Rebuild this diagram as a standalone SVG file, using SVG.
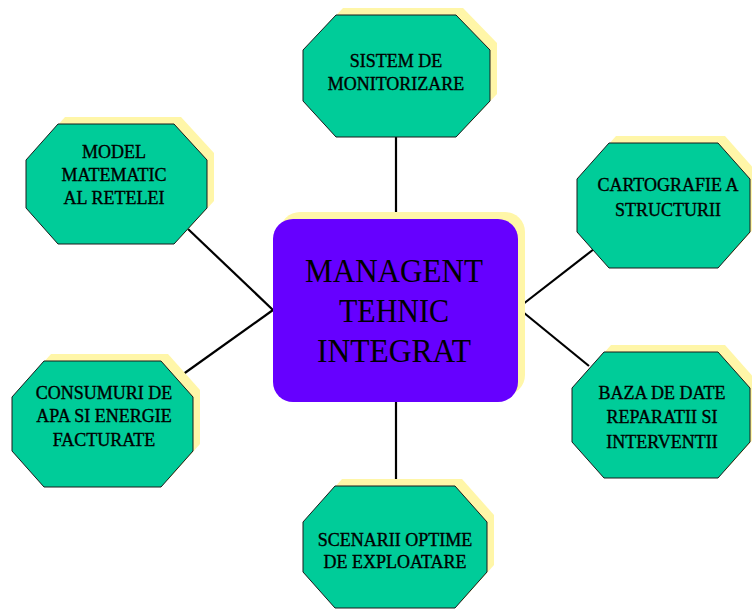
<svg xmlns="http://www.w3.org/2000/svg" width="752" height="610" viewBox="0 0 752 610">
<style>
.sh{fill:#FFF6A8;}
.oct{fill:#00CC99;stroke:#1a1a1a;stroke-width:1;}
.t{font-family:"Liberation Serif","Times New Roman",serif;font-size:18px;fill:#000;stroke:#000;stroke-width:0.35;text-anchor:middle;}
.tc{font-family:"Liberation Serif","Times New Roman",serif;font-size:34px;fill:#000;text-anchor:middle;}
.con line{stroke:#000;stroke-width:2.2;}
</style>
<rect width="752" height="610" fill="#fff"/>
<g class="con" id="connectors">
<line x1="396" y1="137" x2="396" y2="219"/>
<line x1="396" y1="402" x2="396" y2="486"/>
<line x1="188" y1="229" x2="273" y2="310"/>
<line x1="273" y1="310" x2="182" y2="375"/>
<line x1="594" y1="249" x2="518" y2="308"/>
<line x1="518" y1="308" x2="589" y2="366"/>
</g>
<g id="center">
<rect class="sh" x="280" y="212" width="245" height="183" rx="20"/>
<rect x="273" y="219" width="245" height="183" rx="20" fill="#6600FF"/>
<text class="tc" x="394" y="282" textLength="178" lengthAdjust="spacingAndGlyphs">MANAGENT</text>
<text class="tc" x="394" y="322" textLength="110" lengthAdjust="spacingAndGlyphs">TEHNIC</text>
<text class="tc" x="394" y="362" textLength="154" lengthAdjust="spacingAndGlyphs">INTEGRAT</text>
</g>
<g id="n-top">
<polygon class="sh" points="343,8 463,8 497,43 497,94 463,130 343,130 310,94 310,43"/>
<polygon class="oct" points="336,15 456,15 490,50 490,101 456,137 336,137 303,101 303,50"/>
<text class="t" x="396" y="67">SISTEM DE</text>
<text class="t" x="396" y="90">MONITORIZARE</text>
</g>
<g id="n-model">
<polygon class="sh" points="65,117 181,117 214,153 214,201 181,237 65,237 33,201 33,153"/>
<polygon class="oct" points="58,124 174,124 207,160 207,208 174,244 58,244 26,208 26,160"/>
<text class="t" x="114" y="158">MODEL</text>
<text class="t" x="114" y="181">MATEMATIC</text>
<text class="t" x="114" y="204">AL RETELEI</text>
</g>
<g id="n-carto">
<polygon class="sh" points="616,136 725,136 757,172 757,225 725,261 616,261 584,225 584,172"/>
<polygon class="oct" points="609,143 718,143 750,179 750,232 718,268 609,268 577,232 577,179"/>
<text class="t" x="668" y="191">CARTOGRAFIE A</text>
<text class="t" x="668" y="216">STRUCTURII</text>
</g>
<g id="n-consum">
<polygon class="sh" points="51,354 168,354 200,390 200,444 168,480 51,480 19,444 19,390"/>
<polygon class="oct" points="44,361 161,361 193,397 193,451 161,487 44,487 12,451 12,397"/>
<text class="t" x="104" y="399">CONSUMURI DE</text>
<text class="t" x="104" y="422">APA SI ENERGIE</text>
<text class="t" x="104" y="446">FACTURATE</text>
</g>
<g id="n-baza">
<polygon class="sh" points="611,345 725,345 757,381 757,435 725,471 611,471 579,435 579,381"/>
<polygon class="oct" points="604,352 718,352 750,388 750,442 718,478 604,478 572,442 572,388"/>
<text class="t" x="662" y="399">BAZA DE DATE</text>
<text class="t" x="662" y="423">REPARATII SI</text>
<text class="t" x="662" y="448">INTERVENTII</text>
</g>
<g id="n-scen">
<polygon class="sh" points="342,479 462,479 494,515 494,565 462,601 342,601 310,565 310,515"/>
<polygon class="oct" points="335,486 455,486 487,522 487,572 455,608 335,608 303,572 303,522"/>
<text class="t" x="395" y="546">SCENARII OPTIME</text>
<text class="t" x="395" y="568">DE EXPLOATARE</text>
</g>
</svg>
